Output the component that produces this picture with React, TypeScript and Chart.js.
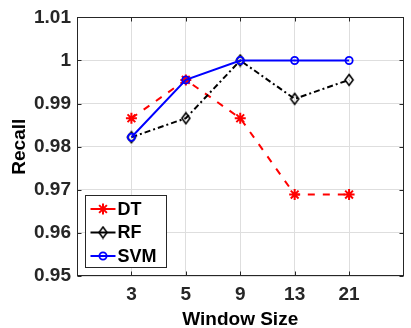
import React, { useEffect, useRef } from "react";
import { Chart, registerables } from "chart.js";

Chart.register(...registerables);

const windowSizes = ["3", "5", "9", "13", "21"];
const seriesNames = ["DT", "RF", "SVM"];
const dtRecall = [0.9866, 0.9955, 0.9866, 0.9689, 0.9689];
const rfRecall = [0.9822, 0.9866, 1.0, 0.9911, 0.9955];
const svmRecall = [0.9822, 0.9955, 1.0, 1.0, 1.0];
const yTicks = [0.95, 0.96, 0.97, 0.98, 0.99, 1.0, 1.01];

const FONT = "'Liberation Sans', Arial, Helvetica, sans-serif";
const AXIS_COLOR = "#262626";
const GRID_COLOR = "#dedede";

const toPoints = (vals: number[]) => vals.map((v, i) => ({ x: i + 1, y: v }));

function makeDiamond(): HTMLCanvasElement {
  const c = document.createElement("canvas");
  c.width = 12;
  c.height = 14;
  const g = c.getContext("2d")!;
  g.strokeStyle = "#000000";
  g.lineWidth = 1.6;
  g.beginPath();
  g.moveTo(6, 1.5);
  g.lineTo(10, 7);
  g.lineTo(6, 12.5);
  g.lineTo(2, 7);
  g.closePath();
  g.stroke();
  return c;
}

function drawMarker(ctx: CanvasRenderingContext2D, ds: any, x: number, y: number) {
  const style = ds.pointStyle;
  const r = ds.pointRadius;
  if (style instanceof HTMLCanvasElement) {
    ctx.drawImage(style, x - style.width / 2, y - style.height / 2);
    return;
  }
  ctx.beginPath();
  if (style === "circle") {
    ctx.arc(x, y, r, 0, Math.PI * 2);
    ctx.stroke();
  } else {
    for (let k = 0; k < 4; k++) {
      const a = (k * Math.PI) / 4;
      ctx.moveTo(x - Math.cos(a) * r, y - Math.sin(a) * r);
      ctx.lineTo(x + Math.cos(a) * r, y + Math.sin(a) * r);
    }
    ctx.stroke();
  }
}

const boxPlugin = {
  id: "matlabBox",
  afterDraw(chart: any) {
    const { ctx, chartArea } = chart;
    const l = Math.round(chartArea.left) + 0.5;
    const r = Math.round(chartArea.right) - 0.5;
    const t = Math.round(chartArea.top) + 0.5;
    const b = Math.round(chartArea.bottom) - 0.5;
    ctx.save();
    ctx.strokeStyle = AXIS_COLOR;
    ctx.lineWidth = 1;
    ctx.setLineDash([]);
    ctx.strokeRect(l, t, r - l, b - t);
    // inside ticks
    const tl = 4;
    const xs = chart.scales.x;
    const ys = chart.scales.y;
    ctx.beginPath();
    for (let i = 1; i <= windowSizes.length; i++) {
      const px = Math.round(xs.getPixelForValue(i)) + 0.5;
      ctx.moveTo(px, b);
      ctx.lineTo(px, b - tl);
      ctx.moveTo(px, t);
      ctx.lineTo(px, t + tl);
    }
    yTicks.forEach((v) => {
      const py = Math.round(ys.getPixelForValue(v)) + 0.5;
      ctx.moveTo(l, py);
      ctx.lineTo(l + tl, py);
      ctx.moveTo(r, py);
      ctx.lineTo(r - tl, py);
    });
    ctx.stroke();

    // legend
    const lx = Math.round(chartArea.left) + 8 + 0.5;
    const lw = 81;
    const lh = 72;
    const ly = Math.round(chartArea.bottom) - 9 - lh + 0.5;
    ctx.fillStyle = "#ffffff";
    ctx.fillRect(lx, ly, lw, lh);
    ctx.strokeStyle = AXIS_COLOR;
    ctx.lineWidth = 1;
    ctx.strokeRect(lx, ly, lw, lh);
    const rowH = 23.5;
    chart.data.datasets.forEach((ds: any, i: number) => {
      const cy = ly + 13.5 + i * rowH;
      const x0 = lx + 5;
      const x1 = lx + 30;
      ctx.save();
      ctx.strokeStyle = ds.borderColor;
      ctx.lineWidth = ds.borderWidth;
      ctx.setLineDash([]);
      ctx.beginPath();
      ctx.moveTo(x0, cy);
      ctx.lineTo(x1, cy);
      ctx.stroke();
      ctx.restore();
      ctx.save();
      ctx.strokeStyle = ds.pointBorderColor;
      ctx.lineWidth = ds.pointBorderWidth;
      drawMarker(ctx, ds, (x0 + x1) / 2, cy);
      ctx.restore();
      ctx.fillStyle = "#000000";
      ctx.font = `bold 18px ${FONT}`;
      ctx.textBaseline = "middle";
      ctx.textAlign = "left";
      ctx.fillText(seriesNames[i], x1 + 2, cy + 1);
    });
    ctx.restore();
  },
};

export default function App() {
  const canvasRef = useRef<HTMLCanvasElement>(null);

  useEffect(() => {
    if (!canvasRef.current) return;
    const diamond = makeDiamond();
    const chart = new Chart(canvasRef.current, {
      type: "line",
      data: {
        datasets: [
          {
            label: seriesNames[0],
            data: toPoints(dtRecall),
            borderColor: "#ff0000",
            borderWidth: 2,
            borderDash: [7, 8],
            pointStyle: "star",
            pointRadius: 5.5,
            pointBorderColor: "#ff0000",
            pointBorderWidth: 2,
            pointBackgroundColor: "#ff0000",
            fill: false,
            order: 2,
          } as any,
          {
            label: seriesNames[1],
            data: toPoints(rfRecall),
            borderColor: "#000000",
            borderWidth: 2,
            borderDash: [6, 3, 2, 3],
            pointStyle: diamond,
            pointRadius: 5,
            pointBorderColor: "#000000",
            pointBorderWidth: 1.6,
            pointBackgroundColor: "rgba(255,255,255,0)",
            fill: false,
            order: 1,
          } as any,
          {
            label: seriesNames[2],
            data: toPoints(svmRecall),
            borderColor: "#0000ff",
            borderWidth: 2,
            pointStyle: "circle",
            pointRadius: 3.6,
            pointBorderColor: "#0000ff",
            pointBorderWidth: 1.8,
            pointBackgroundColor: "rgba(255,255,255,0)",
            fill: false,
            order: 0,
          } as any,
        ],
      },
      plugins: [boxPlugin],
      options: {
        responsive: false,
        animation: false,
        layout: { padding: { left: 0, right: 1, top: 16, bottom: 0 } },
        plugins: { legend: { display: false }, tooltip: { enabled: false } },
        scales: {
          x: {
            type: "linear",
            min: 0,
            max: 6,
            afterFit: (s: any) => {
              s.height = 52;
            },
            afterBuildTicks: (s: any) => {
              s.ticks = [0, 1, 2, 3, 4, 5, 6].map((v) => ({ value: v }));
            },
            ticks: {
              padding: 7,
              autoSkip: false,
              maxRotation: 0,
              color: AXIS_COLOR,
              font: { family: FONT, size: 19, weight: "bold" },
              callback: (v: any) => {
                const i = Math.round(Number(v)) - 1;
                return i >= 0 && i < windowSizes.length ? windowSizes[i] : "";
              },
            },
            grid: { color: GRID_COLOR, lineWidth: 1, drawTicks: false },
            border: { display: false },
            title: {
              display: true,
              text: "Window Size",
              color: "#000000",
              font: { family: FONT, size: 19, weight: "bold", lineHeight: 1 },
              padding: { top: 0, bottom: -1 },
            },
          },
          y: {
            type: "linear",
            min: 0.95,
            max: 1.01,
            afterFit: (s: any) => {
              s.width = 77;
            },
            afterBuildTicks: (s: any) => {
              s.ticks = yTicks.map((v) => ({ value: v }));
            },
            ticks: {
              padding: 6,
              color: AXIS_COLOR,
              font: { family: FONT, size: 19, weight: "bold" },
              callback: (v: any) => String(Number(Number(v).toFixed(2))),
            },
            grid: { color: GRID_COLOR, lineWidth: 1, drawTicks: false },
            border: { display: false },
            title: {
              display: true,
              text: "Recall",
              color: "#000000",
              font: { family: FONT, size: 19, weight: "bold", lineHeight: 1 },
              padding: { top: 10, bottom: 0 },
            },
          },
        },
      } as any,
    });
    return () => chart.destroy();
  }, []);

  return (
    <div style={{ position: "fixed", left: 0, top: 0, width: 411, height: 328, background: "#ffffff" }}>
      <canvas ref={canvasRef} width={411} height={328} />
    </div>
  );
}
